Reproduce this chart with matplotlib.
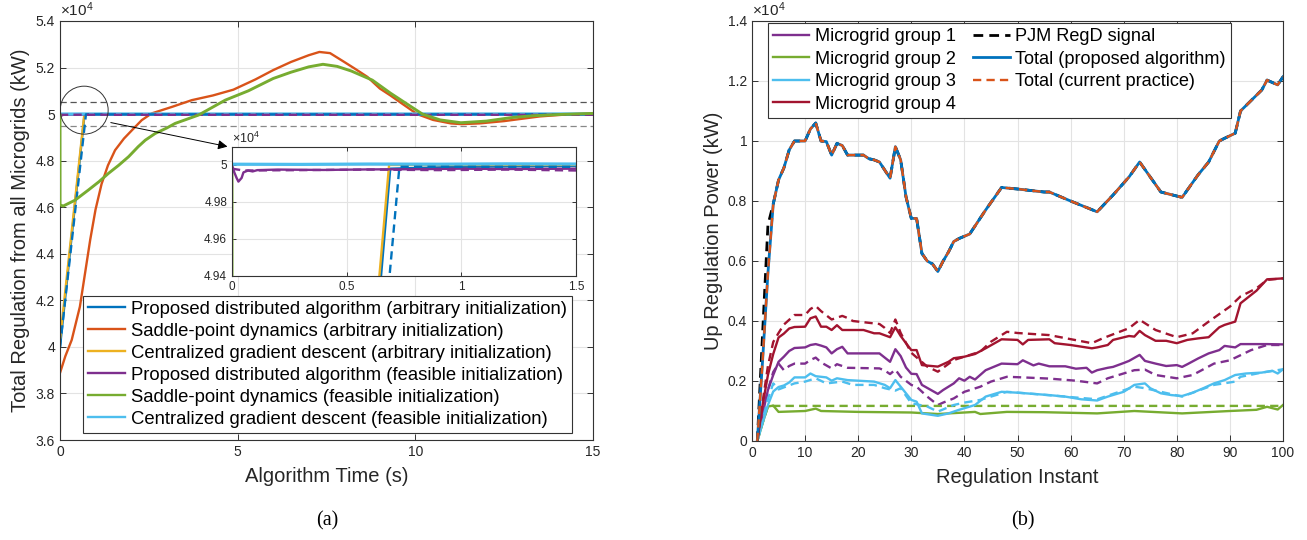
import matplotlib
matplotlib.use("Agg")
import matplotlib.pyplot as plt
from matplotlib.patches import Ellipse

plt.rcParams['font.family'] = ['Liberation Sans', 'DejaVu Sans']
plt.rcParams['mathtext.fontset'] = 'custom'
plt.rcParams['mathtext.rm'] = 'Liberation Sans'
plt.rcParams['mathtext.it'] = 'Liberation Sans:italic'

# ---------------- colours (MATLAB default order) ----------------
C_BLUE, C_ORANGE, C_YELLOW = '#0072BD', '#D95319', '#EDB120'
C_PURPLE, C_GREEN, C_LBLUE, C_RED = '#7E2F8E', '#77AC30', '#4DBEEE', '#A2142F'

# ---------------- (a) data, values in units of 1e4 kW ----------------
t_prop_arb = [0, 0.69, 1.0, 1.5, 15]
v_prop_arb = [4.0, 4.998, 4.999, 4.9995, 5.0]
t_prop_arb_d = [0, 0.73, 1.0, 15]
v_prop_arb_d = [4.0, 4.999, 4.999, 4.999]
t_saddle_arb = [0, 0.15, 0.33, 0.56, 0.85, 1.0, 1.17, 1.35, 1.55, 1.8, 2.02, 2.3, 2.58,
                3.15, 3.71, 4.3, 4.88, 5.5, 6.0, 6.5, 7.0, 7.3, 7.6, 8.0, 8.3, 8.65, 9.0,
                9.3, 9.58, 10.05, 10.5, 11.0, 11.3, 11.8, 12.5, 13.0, 13.5, 14.3, 15]
v_saddle_arb = [3.888, 3.96, 4.03, 4.173, 4.46, 4.59, 4.70, 4.78, 4.845, 4.895, 4.93, 4.974,
                5.003, 5.031, 5.06, 5.08, 5.105, 5.149, 5.189, 5.224, 5.253, 5.267, 5.262,
                5.224, 5.195, 5.16, 5.11, 5.08, 5.05, 5.0, 4.975, 4.96, 4.957, 4.96, 4.97,
                4.98, 4.99, 4.999, 5.003]
t_cent_arb = [0, 0.685, 15]
v_cent_arb = [4.03, 5.0, 5.0]
t_prop_fea = [0, 0.01, 0.02, 0.028, 0.035, 0.042, 0.05, 0.07, 0.09, 0.11, 0.2, 0.4, 0.6,
              0.8, 1.0, 1.2, 1.5, 3, 15]
v_prop_fea = [5.0, 4.996, 4.993, 4.991, 4.992, 4.993, 4.996, 4.997, 4.9965, 4.9972, 4.9975,
              4.9973, 4.9976, 4.9977, 4.998, 4.9978, 4.998, 4.9985, 4.999]
t_prop_fea_d = [0, 0.05, 0.3, 0.6, 0.9, 1.2, 1.5, 15]
v_prop_fea_d = [4.998, 4.997, 4.9972, 4.9975, 4.9972, 4.9975, 4.997, 4.997]
t_saddle_fea = [0, 0.001, 0.09, 0.42, 0.8, 1.1, 1.36, 1.65, 1.93, 2.2, 2.4, 2.68, 3.0, 3.24,
                3.9, 4.65, 5.3, 6.0, 6.5, 7.0, 7.4, 7.8, 8.2, 8.79, 9.3, 9.8, 10.2, 10.7,
                11.28, 12.0, 12.7, 13.3, 14.0, 15]
v_saddle_fea = [4.996, 4.61, 4.605, 4.63, 4.674, 4.71, 4.745, 4.78, 4.817, 4.86, 4.888,
                4.917, 4.94, 4.96, 4.996, 5.06, 5.10, 5.153, 5.18, 5.203, 5.214, 5.205,
                5.185, 5.146, 5.09, 5.04, 5.0, 4.975, 4.963, 4.97, 4.985, 4.993, 4.998, 5.003]
t_cent_fea = [0, 0.3, 0.6, 0.9, 1.2, 1.5, 15]
v_cent_fea = [5.0004, 5.0003, 5.0005, 5.0004, 5.0006, 5.0005, 5.0005]
band_hi, band_lo = 5.05, 4.95

legend_a = ['Proposed distributed algorithm (arbitrary initialization)',
            'Saddle-point dynamics (arbitrary initialization)',
            'Centralized gradient descent (arbitrary initialization)',
            'Proposed distributed algorithm (feasible initialization)',
            'Saddle-point dynamics (feasible initialization)',
            'Centralized gradient descent (feasible initialization)']
yt_a = [3.6, 3.8, 4.0, 4.2, 4.4, 4.6, 4.8, 5.0, 5.2, 5.4]
yl_a = ['3.6', '3.8', '4', '4.2', '4.4', '4.6', '4.8', '5', '5.2', '5.4']
xt_a = [0, 5, 10, 15]
yt_in = [4.94, 4.96, 4.98, 5.0]
yl_in = ['4.94', '4.96', '4.98', '5']
xt_in = [0, 0.5, 1, 1.5]
xl_in = ['0', '0.5', '1', '1.5']

# ---------------- (b) data, values in units of 1e4 kW ----------------
g1_k = [1, 2, 3, 4, 5, 6, 7, 8, 10, 11, 12, 13, 14, 15, 16, 17, 18, 24, 26, 27, 28, 29, 30,
        31, 32, 35, 36, 38, 39, 40, 41, 42, 44, 47, 50, 51, 53, 54, 56, 59, 61, 63, 64, 65,
        67, 68, 70, 71, 73, 74, 76, 78, 80, 81, 82, 84, 86, 88, 89, 91, 92, 97, 100]
g1 = [0, 0.09, 0.17, 0.22, 0.264, 0.281, 0.3, 0.31, 0.312, 0.32, 0.323, 0.318, 0.312, 0.292,
      0.306, 0.314, 0.292, 0.292, 0.264, 0.306, 0.283, 0.245, 0.224, 0.223, 0.187, 0.157,
      0.17, 0.192, 0.209, 0.201, 0.214, 0.205, 0.236, 0.258, 0.256, 0.269, 0.252, 0.258,
      0.249, 0.249, 0.241, 0.244, 0.228, 0.236, 0.244, 0.247, 0.26, 0.267, 0.287, 0.267,
      0.258, 0.25, 0.253, 0.247, 0.256, 0.275, 0.292, 0.303, 0.317, 0.312, 0.323, 0.323, 0.322]
g1d_k = [1, 2, 3, 4, 5, 6, 7, 8, 10, 11, 12, 13, 15, 16, 18, 24, 25, 26, 27, 28, 30, 31, 33,
         35, 36, 38, 40, 43, 45, 48, 51, 56, 61, 65, 67, 72, 74, 76, 80, 83, 87, 90, 92, 94,
         97, 100]
g1d = [0, 0.09, 0.17, 0.23, 0.258, 0.236, 0.25, 0.258, 0.258, 0.27, 0.278, 0.262, 0.242,
       0.256, 0.244, 0.242, 0.235, 0.223, 0.238, 0.214, 0.187, 0.181, 0.148, 0.12, 0.128,
       0.142, 0.164, 0.181, 0.198, 0.214, 0.212, 0.208, 0.201, 0.192, 0.209, 0.236, 0.238,
       0.22, 0.209, 0.22, 0.258, 0.269, 0.286, 0.303, 0.32, 0.32]
g2_k = [1, 2, 3, 4, 5, 10, 12, 13, 20, 30, 35, 40, 42, 43, 48, 55, 65, 72, 81, 90, 95, 97, 99, 100]
g2 = [0, 0.06, 0.115, 0.118, 0.097, 0.1, 0.108, 0.1, 0.097, 0.095, 0.09, 0.095, 0.097, 0.09,
      0.097, 0.096, 0.092, 0.1, 0.092, 0.1, 0.104, 0.114, 0.105, 0.12]
g2d_k = [1, 2, 3, 4, 100]
g2d = [0, 0.06, 0.115, 0.117, 0.117]
g3_k = [1, 2, 3, 4, 5, 6, 7, 8, 10, 11, 12, 14, 15, 16, 18, 23, 25, 26, 27, 28, 30, 31, 32,
        35, 37, 39, 42, 44, 47, 50, 53, 56, 59, 62, 65, 67, 70, 72, 74, 75, 77, 79, 81, 83,
        85, 87, 89, 91, 93, 96, 98, 99, 100]
g3 = [0, 0.06, 0.12, 0.165, 0.18, 0.185, 0.195, 0.212, 0.212, 0.225, 0.216, 0.212, 0.201,
      0.209, 0.203, 0.198, 0.187, 0.176, 0.203, 0.181, 0.137, 0.131, 0.092, 0.084, 0.092,
      0.104, 0.12, 0.148, 0.164, 0.161, 0.157, 0.153, 0.148, 0.139, 0.135, 0.148, 0.164,
      0.187, 0.192, 0.176, 0.159, 0.153, 0.15, 0.161, 0.176, 0.192, 0.203, 0.22, 0.225,
      0.228, 0.234, 0.225, 0.239]
g3d_k = [1, 2, 3, 4, 5, 8, 10, 12, 14, 17, 19, 23, 25, 27, 28, 30, 33, 35, 38, 40, 43, 45,
         48, 53, 59, 65, 72, 74, 77, 81, 87, 91, 92, 96, 100]
g3d = [0, 0.07, 0.14, 0.192, 0.172, 0.192, 0.198, 0.209, 0.192, 0.198, 0.187, 0.187, 0.176,
       0.168, 0.176, 0.126, 0.115, 0.098, 0.12, 0.128, 0.137, 0.148, 0.164, 0.157, 0.148,
       0.139, 0.181, 0.176, 0.164, 0.148, 0.187, 0.198, 0.214, 0.228, 0.239]
g4_k = [1, 2, 3, 4, 5, 6, 7, 8, 10, 11, 12, 13, 14, 15, 16, 17, 21, 23, 24, 26, 27, 28, 29,
        30, 31, 32, 35, 37, 38, 40, 42, 44, 47, 50, 51, 52, 56, 57, 60, 64, 65, 67, 68, 71,
        72, 73, 74, 76, 78, 80, 82, 84, 86, 88, 89, 91, 92, 95, 97, 100]
g4 = [0, 0.12, 0.22, 0.29, 0.345, 0.358, 0.375, 0.38, 0.381, 0.409, 0.415, 0.381, 0.381,
      0.37, 0.386, 0.37, 0.37, 0.359, 0.359, 0.346, 0.379, 0.35, 0.326, 0.303, 0.303, 0.253,
      0.248, 0.264, 0.276, 0.281, 0.29, 0.309, 0.339, 0.337, 0.322, 0.337, 0.339, 0.326,
      0.32, 0.309, 0.312, 0.32, 0.337, 0.35, 0.348, 0.367, 0.353, 0.334, 0.334, 0.326, 0.337,
      0.342, 0.346, 0.379, 0.387, 0.398, 0.459, 0.501, 0.539, 0.542]
g4d_k = [1, 2, 3, 4, 5, 6, 8, 10, 11, 12, 13, 15, 17, 18, 19, 24, 25, 26, 27, 28, 30, 33, 35,
         38, 40, 43, 45, 48, 50, 56, 64, 66, 71, 73, 76, 80, 83, 86, 90, 92, 95, 97, 100]
g4d = [0, 0.13, 0.25, 0.33, 0.36, 0.388, 0.42, 0.42, 0.44, 0.45, 0.433, 0.405, 0.417, 0.41,
       0.40, 0.39, 0.377, 0.36, 0.405, 0.36, 0.294, 0.248, 0.231, 0.27, 0.281, 0.298, 0.331,
       0.364, 0.36, 0.353, 0.326, 0.342, 0.376, 0.404, 0.37, 0.346, 0.359, 0.398, 0.448,
       0.482, 0.509, 0.537, 0.542]
tot_k = [1, 2, 3, 4, 5, 6, 7, 8, 10, 11, 12, 13, 14, 15, 16, 17, 18, 21, 22, 23, 24, 26, 27,
         28, 29, 30, 31, 32, 33, 34, 35, 36, 37, 38, 39, 41, 44, 47, 50, 55, 56, 60, 65, 68,
         71, 73, 77, 81, 84, 86, 88, 89, 91, 92, 96, 97, 99, 100]
tot = [0, 0.27, 0.56, 0.79, 0.87, 0.91, 0.97, 1.0, 1.0, 1.04, 1.06, 1.0, 0.998, 0.953, 0.992,
       0.985, 0.953, 0.953, 0.941, 0.937, 0.93, 0.876, 0.981, 0.937, 0.814, 0.742, 0.742,
       0.625, 0.60, 0.59, 0.565, 0.60, 0.63, 0.665, 0.675, 0.69, 0.77, 0.845, 0.84, 0.83,
       0.83, 0.80, 0.764, 0.82, 0.88, 0.93, 0.83, 0.812, 0.887, 0.93, 1.0, 1.009, 1.026, 1.10,
       1.17, 1.203, 1.187, 1.214]
cur = [0, 0.27, 0.56, 0.79, 0.87, 0.91, 0.97, 1.0, 1.0, 1.04, 1.06, 1.0, 0.998, 0.953, 0.992,
       0.985, 0.953, 0.953, 0.941, 0.937, 0.93, 0.876, 0.981, 0.937, 0.814, 0.742, 0.742,
       0.625, 0.60, 0.59, 0.565, 0.60, 0.63, 0.665, 0.675, 0.69, 0.77, 0.845, 0.84, 0.83,
       0.83, 0.80, 0.764, 0.82, 0.88, 0.93, 0.83, 0.812, 0.887, 0.93, 1.0, 1.009, 1.026, 1.10,
       1.17, 1.203, 1.187, 1.214]
pjm = [0, 0.36, 0.72, 0.79, 0.87, 0.91, 0.97, 1.0, 1.0, 1.04, 1.06, 1.0, 0.998, 0.953, 0.992,
       0.985, 0.953, 0.953, 0.941, 0.937, 0.93, 0.876, 0.981, 0.937, 0.814, 0.742, 0.742,
       0.625, 0.60, 0.59, 0.565, 0.60, 0.63, 0.665, 0.675, 0.69, 0.77, 0.845, 0.84, 0.83,
       0.83, 0.80, 0.764, 0.82, 0.88, 0.93, 0.83, 0.812, 0.887, 0.93, 1.0, 1.009, 1.026, 1.10,
       1.17, 1.203, 1.187, 1.214]
legend_b = ['Microgrid group 1', 'Microgrid group 2', 'Microgrid group 3', 'Microgrid group 4',
            'PJM RegD signal', 'Total (proposed algorithm)', 'Total (current practice)']
yt_b = [0, 0.2, 0.4, 0.6, 0.8, 1.0, 1.2, 1.4]
yl_b = ['0', '0.2', '0.4', '0.6', '0.8', '1', '1.2', '1.4']
xt_b = list(range(0, 101, 10))

# ---------------- figure ----------------
W, H = 1307, 540
fig = plt.figure(figsize=(W / 100, H / 100), dpi=100)

AX_COL = '#333333'
TXT_COL = '#262626'
GRID_COL = '#e3e3e3'
LW = 1.7
DASH = (3.5, 2.2)


def style(ax, fs):
    for s in ax.spines.values():
        s.set_color(AX_COL)
        s.set_linewidth(0.8)
    ax.tick_params(direction='in', top=True, right=True, length=4, width=0.7,
                   colors=AX_COL, labelcolor=TXT_COL, labelsize=fs)
    ax.grid(True, color=GRID_COL, linewidth=0.8)
    ax.set_axisbelow(True)


def ax_rect(x0, y0, x1, y1):
    return [x0 / W, 1 - y1 / H, (x1 - x0) / W, (y1 - y0) / H]


def draw_a(ax, green_z):
    ax.plot(t_prop_arb, v_prop_arb, color=C_BLUE, lw=LW)
    ax.plot(t_saddle_arb, v_saddle_arb, color=C_ORANGE, lw=LW)
    ax.plot(t_cent_arb, v_cent_arb, color=C_YELLOW, lw=LW)
    ax.plot(t_prop_fea, v_prop_fea, color=C_PURPLE, lw=LW)
    ax.plot(t_saddle_fea, v_saddle_fea, color=C_GREEN, lw=LW + 0.4, zorder=green_z)
    ax.plot(t_cent_fea, v_cent_fea, color=C_LBLUE, lw=LW + 0.6)
    ax.plot(t_prop_arb_d, v_prop_arb_d, color=C_BLUE, lw=LW, ls=(0, DASH))
    ax.plot(t_prop_fea_d, v_prop_fea_d, color=C_PURPLE, lw=LW, ls=(0, DASH))


# ----- (a) main -----
axa = fig.add_axes(ax_rect(60, 21, 593, 440))
style(axa, 10)
axa.axhline(band_hi, color='#555555', lw=0.9, ls=(0, (5, 3)), zorder=1)
axa.axhline(band_lo, color='#888888', lw=0.9, ls=(0, (5, 3)), zorder=1)
draw_a(axa, 2.6)
axa.set_xlim(0, 15)
axa.set_ylim(3.6, 5.4)
axa.set_yticks(yt_a)
axa.set_yticklabels(yl_a)
axa.set_xticks(xt_a)
axa.set_xticklabels([str(v) for v in xt_a])
axa.set_xlabel('Algorithm Time (s)', fontsize=14.5, color=TXT_COL, va='center')
axa.xaxis.set_label_coords(0.5, -0.088)
axa.set_ylabel('Total Regulation from all Microgrids (kW)', fontsize=14.5, color=TXT_COL,
               va='center')
axa.yaxis.set_label_coords(-0.075, 0.5)
axa.text(0.0, 1.005, r'$\times10^{4}$', transform=axa.transAxes, fontsize=11,
         color=TXT_COL, ha='left', va='bottom')

# zoom circle and arrow
axa.add_patch(Ellipse((0.68, 5.017), 1.35, 0.206, fill=False, ec='#333333', lw=0.7,
                      zorder=6))
axa.annotate('', xy=(4.79, 4.858), xytext=(1.353, 4.966),
             arrowprops=dict(arrowstyle='-|>', color='black', lw=0.7,
                             mutation_scale=14), zorder=6)

handles_a = [plt.Line2D([], [], color=c, lw=LW) for c in
             [C_BLUE, C_ORANGE, C_YELLOW, C_PURPLE, C_GREEN, C_LBLUE]]
leg_a = axa.legend(handles_a, legend_a, loc='lower right', bbox_to_anchor=(0.9606, 0.0167),
                   borderaxespad=0, fontsize=13.3, fancybox=False, framealpha=1,
                   edgecolor=AX_COL, handlelength=2.0, handletextpad=0.3,
                   labelspacing=0.27, borderpad=0.28)
leg_a.get_frame().set_linewidth(0.8)
leg_a.set_zorder(10)

# ----- (a) inset -----
axi = fig.add_axes(ax_rect(232, 147, 576, 276))
style(axi, 8.5)
axi.tick_params(length=3)
draw_a(axi, 1.9)
axi.set_xlim(0, 1.5)
axi.set_ylim(4.94, 5.0097)
axi.set_yticks(yt_in)
axi.set_yticklabels(yl_in)
axi.set_xticks(xt_in)
axi.set_xticklabels(xl_in)
axi.text(0.0, 1.005, r'$\times10^{4}$', transform=axi.transAxes, fontsize=9,
         color=TXT_COL, ha='left', va='bottom')
axi.set_zorder(5)

# ----- (b) -----
axb = fig.add_axes(ax_rect(752, 21, 1283, 441))
style(axb, 10)
axb.plot(g1_k, g1, color=C_PURPLE, lw=LW)
axb.plot(g1d_k, g1d, color=C_PURPLE, lw=LW, ls=(0, DASH))
axb.plot(g2_k, g2, color=C_GREEN, lw=LW)
axb.plot(g2d_k, g2d, color=C_GREEN, lw=LW, ls=(0, DASH))
axb.plot(g3_k, g3, color=C_LBLUE, lw=LW)
axb.plot(g3d_k, g3d, color=C_LBLUE, lw=LW, ls=(0, DASH))
axb.plot(g4_k, g4, color=C_RED, lw=LW)
axb.plot(g4d_k, g4d, color=C_RED, lw=LW, ls=(0, DASH))
axb.plot(tot_k, pjm, color='black', lw=LW + 0.3, ls=(0, DASH))
axb.plot(tot_k, tot, color=C_BLUE, lw=LW + 0.3)
axb.plot(tot_k, cur, color=C_ORANGE, lw=LW, ls=(0, DASH))
axb.set_xlim(0, 100)
axb.set_ylim(0, 1.4)
axb.set_yticks(yt_b)
axb.set_yticklabels(yl_b)
axb.set_xticks(xt_b)
axb.set_xticklabels([str(v) for v in xt_b])
axb.set_xlabel('Regulation Instant', fontsize=14.5, color=TXT_COL, va='center')
axb.xaxis.set_label_coords(0.5, -0.088)
axb.set_ylabel('Up Regulation Power (kW)', fontsize=14.5, color=TXT_COL, va='center')
axb.yaxis.set_label_coords(-0.0734, 0.5)
axb.text(0.0, 1.005, r'$\times10^{4}$', transform=axb.transAxes, fontsize=11,
         color=TXT_COL, ha='left', va='bottom')

handles_b = [plt.Line2D([], [], color=C_PURPLE, lw=LW),
             plt.Line2D([], [], color=C_GREEN, lw=LW),
             plt.Line2D([], [], color=C_LBLUE, lw=LW),
             plt.Line2D([], [], color=C_RED, lw=LW),
             plt.Line2D([], [], color='black', lw=LW + 0.3, ls=(0, DASH)),
             plt.Line2D([], [], color=C_BLUE, lw=LW + 0.3),
             plt.Line2D([], [], color=C_ORANGE, lw=LW, ls=(0, DASH))]
leg_b = axb.legend(handles_b, legend_b, loc='upper left', bbox_to_anchor=(0.030, 0.995),
                   borderaxespad=0, ncol=2, fontsize=13.1, fancybox=False, framealpha=1,
                   edgecolor=AX_COL, handlelength=2.0, handletextpad=0.3,
                   labelspacing=0.3, borderpad=0.28, columnspacing=0.95)
leg_b.get_frame().set_linewidth(0.8)

# captions
fig.text(327 / W, 1 - 521 / H, '(a)', family='Liberation Serif', fontsize=14.5,
         ha='center', va='center', color='black')
fig.text(1023 / W, 1 - 521 / H, '(b)', family='Liberation Serif', fontsize=14.5,
         ha='center', va='center', color='black')

fig.savefig('out.png', dpi=100)
